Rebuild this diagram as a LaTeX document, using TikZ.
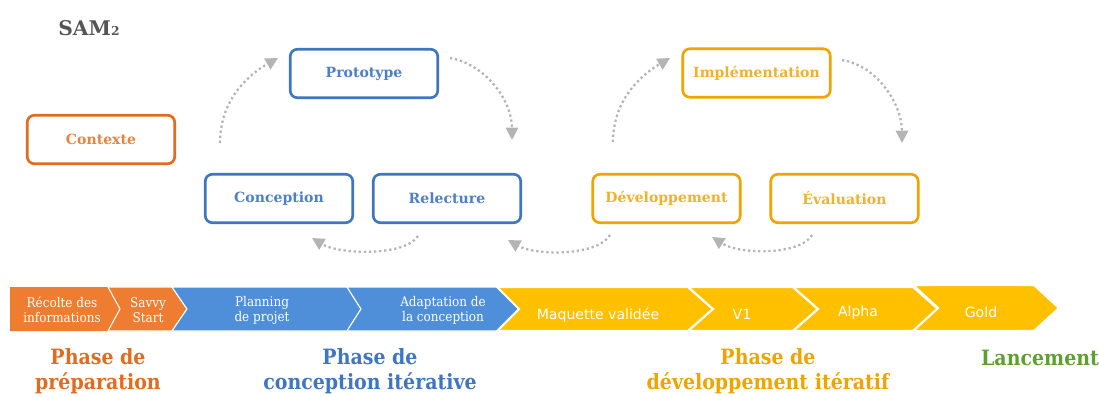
\documentclass[tikz,border=0pt]{standalone}
\usepackage{fontspec}
\setmainfont{DejaVu Serif}
\newfontfamily\slabcond{DejaVu Serif Condensed}
\newfontfamily\chevsans{DejaVu Sans}
\usetikzlibrary{arrows.meta}

\definecolor{samorange}{HTML}{E16B1F}
\definecolor{samorangetxt}{HTML}{E9833D}
\definecolor{samblue}{HTML}{3F76C1}
\definecolor{sambluetxt}{HTML}{4C80C8}
\definecolor{samgold}{HTML}{F0A400}
\definecolor{samgoldtxt}{HTML}{F2B12A}
\definecolor{samgreen}{HTML}{5E9F31}
\definecolor{samgray}{HTML}{B4B4B4}
\definecolor{samdark}{HTML}{555555}
\definecolor{chevorange}{HTML}{EE7D31}
\definecolor{chevblue}{HTML}{4F8ED8}
\definecolor{chevyellow}{HTML}{FFC000}

\tikzset{
  stepbox/.style={draw, rounded corners=4pt, line width=1.5pt, fill=white,
    minimum width=2.95cm, minimum height=0.97cm,
    font=\bfseries\fontsize{8}{10}\selectfont},
  loop arrow/.style={draw=samgray, line width=1.3pt,
    dash pattern=on 1.3pt off 1.6pt,
    -{Triangle[length=7pt,width=7pt,fill=samgray]}},
  chev/.style={draw=white, line width=0.6pt},
  chevtext/.style={text=white, align=center, font=\slabcond\fontsize{7.6}{8.6}\selectfont},
  milestone/.style={text=white, font=\chevsans\fontsize{8}{10}\selectfont},
  phase/.style={align=center, font=\slabcond\bfseries\fontsize{12}{14}\selectfont}
}

\begin{document}
\begin{tikzpicture}[x=0.02cm,y=-0.02cm]
  \useasboundingbox (0,0) rectangle (1099,396);

  % titre
  \node[font=\bfseries\fontsize{11.5}{13}\selectfont, text=samdark] (title) at (89,28)
    {SAM{\fontsize{7}{8}\selectfont 2}};

  % boites
  \node[stepbox, draw=samorange, text=samorangetxt] (ctx) at (101,139.5) {Contexte};
  \node[stepbox, draw=samblue, text=sambluetxt] (proto) at (364,73.5) {Prototype};
  \node[stepbox, draw=samblue, text=sambluetxt] (conc) at (279,198.5) {Conception};
  \node[stepbox, draw=samblue, text=sambluetxt] (relec) at (447,198.5) {Relecture};
  \node[stepbox, draw=samgold, text=samgoldtxt] (impl) at (756.5,73) {Implémentation};
  \node[stepbox, draw=samgold, text=samgoldtxt] (dev) at (666.5,198.5) {Développement};
  \node[stepbox, draw=samgold, text=samgoldtxt] (eval) at (844.5,198.5) {Évaluation};

  % fleches de la boucle
  \coordinate (conc-out) at (220,143);
  \coordinate (proto-in) at (278,58);
  \coordinate (proto-out) at (450,58);
  \coordinate (relec-in) at (512,140);
  \coordinate (relec-out) at (418,236);
  \coordinate (conc-in) at (312,238);
  \coordinate (dev-back) at (610,235);
  \coordinate (relec-back) at (508,240);
  \coordinate (dev-out) at (613,142);
  \coordinate (impl-in) at (670,58);
  \coordinate (impl-out) at (842,60);
  \coordinate (eval-in) at (902,143);
  \coordinate (eval-out) at (812,235);
  \coordinate (dev-in) at (712,237);

  \draw[loop arrow] (conc-out) .. controls (220,100) and (248,75) .. (proto-in);
  \draw[loop arrow] (proto-out) .. controls (485,64) and (512,100) .. (relec-in);
  \draw[loop arrow] (relec-out) .. controls (406,256) and (340,255) .. (conc-in);
  \draw[loop arrow] (dev-back) .. controls (598,256) and (536,256) .. (relec-back);
  \draw[loop arrow] (dev-out) .. controls (613,100) and (641,75) .. (impl-in);
  \draw[loop arrow] (impl-out) .. controls (878,66) and (902,105) .. (eval-in);
  \draw[loop arrow] (eval-out) .. controls (801,255) and (740,255) .. (dev-in);

  % frise
  \fill[chevorange] (10,287) -- (108,287) -- (120,309) -- (108,331) -- (10,331) -- cycle;
  \draw[chev, fill=chevorange] (108,287) -- (172,287) -- (187,309) -- (172,331) -- (108,331) -- (120,309) -- cycle;
  \draw[chev, fill=chevblue] (172,287) -- (347,287) -- (361,309) -- (347,331) -- (172,331) -- (187,309) -- cycle;
  \draw[chev, fill=chevblue] (347,287) -- (497,287) -- (519,309) -- (497,331) -- (347,331) -- (361,309) -- cycle;
  \draw[chev, fill=chevyellow, line width=1.2pt] (497,287) -- (688,287) -- (713,309) -- (688,331) -- (497,331) -- (519,309) -- cycle;
  \draw[chev, fill=chevyellow, line width=1.2pt] (688,287) -- (793,287) -- (818,309) -- (793,331) -- (688,331) -- (713,309) -- cycle;
  \draw[chev, fill=chevyellow, line width=1.2pt] (793,287) -- (913,287) -- (938,309) -- (913,331) -- (793,331) -- (818,309) -- cycle;
  \draw[chev, fill=chevyellow, line width=1.2pt] (913,285) -- (1034,285) -- (1059,308) -- (1034,331) -- (913,331) -- (938,308) -- cycle;

  \node[chevtext] (recolte) at (62,310) {Récolte des\\informations};
  \node[chevtext] (savvy) at (148,310) {Savvy\\Start};
  \node[chevtext] (planning) at (262,310) {Planning\\de projet};
  \node[chevtext] (adapt) at (443,310) {Adaptation de\\la conception};
  \node[milestone] (maquette) at (598,315) {Maquette validée};
  \node[milestone] (v1) at (742,314) {V1};
  \node[milestone] (alpha) at (858,313) {Alpha};
  \node[milestone] (gold) at (981,312) {Gold};

  % phases
  \node[phase, text=samorange] (prep) at (98,371) {Phase de\\préparation};
  \node[phase, text=samblue] (concit) at (370,371) {Phase de\\conception itérative};
  \node[phase, text=samgold] (devit) at (768,371) {Phase de\\développement itératif};
  \node[phase, text=samgreen] (lance) at (1040,358) {Lancement};
\end{tikzpicture}
\end{document}
